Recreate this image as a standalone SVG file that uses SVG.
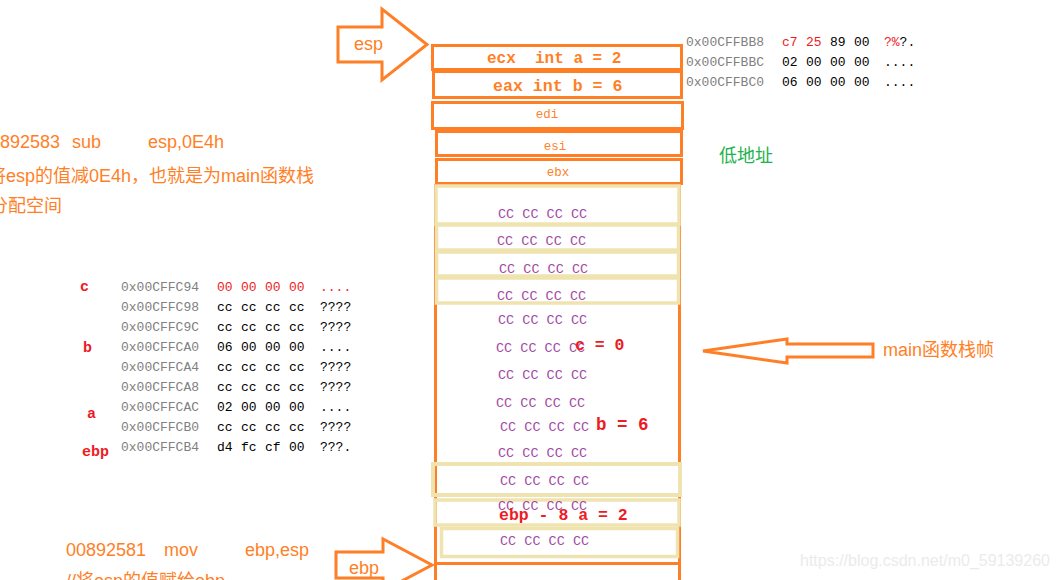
<svg xmlns="http://www.w3.org/2000/svg" width="1057" height="580" viewBox="0 0 1057 580">
<style>
.ob{fill:none;stroke:#FF7F27;stroke-width:3}
.bb{fill:none;stroke:#EFE4B0;stroke-width:3.5}
.arr{fill:none;stroke:#FF7F27;stroke-width:3;stroke-linejoin:miter}
.mono{font-family:"Liberation Mono","DejaVu Sans Mono",monospace}
.hb{font-family:"Liberation Mono",monospace;font-weight:bold;font-size:16px;fill:#FF7F27}
.reg{font-family:"Liberation Mono",monospace;font-size:12.5px;fill:#FF7F27;text-anchor:middle}
.cc{font-family:"Liberation Mono",monospace;font-size:13.5px;fill:#A349A4}
.rl{font-family:"Liberation Mono",monospace;font-weight:bold;font-size:16.5px;fill:#ED1C24}
.sans{font-family:"Liberation Sans","Noto Sans CJK SC",sans-serif;font-size:18px;fill:#FF7F27}
.addr{font-family:"Liberation Mono",monospace;font-size:13px;fill:#808080}
.byte{font-family:"Liberation Mono",monospace;font-size:13px;fill:#000}
.red{fill:#ED1C24}
.lbl{font-family:"Liberation Mono",monospace;font-weight:bold;font-size:15px;fill:#ED1C24}
</style>

<g id="stack-frame">
  <line x1="435.5" y1="184" x2="435.5" y2="580" stroke="#FF7F27" stroke-width="3"/>
  <line x1="679.5" y1="184" x2="679.5" y2="580" stroke="#FF7F27" stroke-width="3"/>
  <line x1="436" y1="563.5" x2="680" y2="563.5" stroke="#FF7F27" stroke-width="3"/>
</g>

<g id="slot-ecx"><rect class="ob" x="432.5" y="45.5" width="249" height="24"/><text class="hb" x="487" y="63" xml:space="preserve">ecx  int a = 2</text></g>
<g id="slot-eax"><rect class="ob" x="433.5" y="71.5" width="248" height="26"/><text class="hb" x="493" y="91" style="font-size:16.6px">eax int b = 6</text></g>
<g id="slot-edi"><rect class="ob" x="432.5" y="102.5" width="250" height="26"/><text class="reg" x="547" y="118">edi</text></g>
<g id="slot-esi"><rect class="ob" x="436.5" y="131.5" width="245" height="24"/><text class="reg" x="555" y="150">esi</text></g>
<g id="slot-ebx"><rect class="ob" x="436.5" y="159.5" width="245" height="24"/><text class="reg" x="558" y="176">ebx</text></g>

<g id="cc-slots">
  <rect class="bb" x="436" y="186" width="243" height="38"/>
  <rect class="bb" x="436.5" y="225" width="242" height="25"/>
  <rect class="bb" x="436.5" y="252" width="242" height="24"/>
  <rect class="bb" x="436.5" y="278" width="242" height="25"/>
  <rect class="bb" x="433" y="464" width="247" height="31" style="stroke-width:4"/>
  <rect class="bb" x="435" y="500" width="244" height="25"/>
  <rect class="bb" x="441.5" y="528.5" width="236" height="28"/>
  <text class="cc" x="498" y="218">CC CC CC CC</text>
  <text class="cc" x="497" y="245">CC CC CC CC</text>
  <text class="cc" x="499" y="273">CC CC CC CC</text>
  <text class="cc" x="497" y="300">CC CC CC CC</text>
  <text class="cc" x="498" y="324">CC CC CC CC</text>
  <text class="cc" x="496" y="352">CC CC CC CC</text>
  <text class="cc" x="498" y="379">CC CC CC CC</text>
  <text class="cc" x="496" y="407">CC CC CC CC</text>
  <text class="cc" x="500" y="431">CC CC CC CC</text>
  <text class="cc" x="498" y="457">CC CC CC CC</text>
  <text class="cc" x="500" y="485">CC CC CC CC</text>
  <text class="cc" x="498" y="510">CC CC CC CC</text>
  <text class="cc" x="500" y="545">CC CC CC CC</text>
  <text class="rl" x="575" y="350">c = 0</text>
  <text class="rl" x="596" y="430" style="font-size:17.5px">b = 6</text>
  <text class="rl" x="499" y="520">ebp - 8 a = 2</text>
</g>

<g id="esp-arrow">
  <polygon class="arr" points="338,27 382,27 382,9 427,44.5 382,80 382,62 338,62"/>
  <text class="sans" x="354" y="50">esp</text>
</g>
<g id="ebp-arrow">
  <polygon class="arr" points="336,552 383,552 383,539 432,565 383,591 383,578 336,578"/>
  <text class="sans" x="349" y="574">ebp</text>
</g>
<g id="main-arrow">
  <polygon class="arr" points="703,351 787,339 787,344 873,344 873,357 787,357 787,363"/>
  <text class="sans" x="883" y="356">main函数栈帧</text>
</g>

<g id="low-addr"><text class="sans" x="719" y="162" style="fill:#22B14C">低地址</text></g>

<g id="top-note">
  <text class="sans" x="60" y="148" text-anchor="end">00892583</text>
  <text class="sans" x="72" y="148">sub</text>
  <text class="sans" x="148" y="148">esp,0E4h</text>
  <text class="sans" x="-12" y="182">将esp的值减0E4h，也就是为main函数栈</text>
  <text class="sans" x="-10" y="212">分配空间</text>
</g>

<g id="bottom-note">
  <text class="sans" x="66" y="556">00892581</text>
  <text class="sans" x="164" y="556">mov</text>
  <text class="sans" x="245" y="556">ebp,esp</text>
  <text class="sans" x="66" y="587">//将esp的值赋给ebp</text>
</g>

<g id="mem-top">
  <text class="addr" x="686" y="46">0x00CFFBB8</text>
  <text class="byte" x="782" y="46"><tspan class="red">c7</tspan> <tspan class="red" x="806">25</tspan><tspan x="830">89</tspan><tspan x="854">00</tspan><tspan x="884" class="red">?%</tspan>?.</text>
  <text class="addr" x="686" y="66">0x00CFFBBC</text>
  <text class="byte" y="66"><tspan x="782">02</tspan><tspan x="806">00</tspan><tspan x="830">00</tspan><tspan x="854">00</tspan><tspan x="884">....</tspan></text>
  <text class="addr" x="686" y="86">0x00CFFBC0</text>
  <text class="byte" y="86"><tspan x="782">06</tspan><tspan x="806">00</tspan><tspan x="830">00</tspan><tspan x="854">00</tspan><tspan x="884">....</tspan></text>
</g>

<g id="mem-left">
  <text class="lbl" x="80" y="291">c</text>
  <text class="lbl" x="83" y="352">b</text>
  <text class="lbl" x="87" y="418">a</text>
  <text class="lbl" x="82" y="456">ebp</text>
  <text class="addr" x="121" y="291">0x00CFFC94</text>
  <text class="byte" y="291" style="fill:#ED1C24"><tspan x="217">00</tspan><tspan x="241">00</tspan><tspan x="265">00</tspan><tspan x="289">00</tspan><tspan x="320">....</tspan></text>
  <text class="addr" x="121" y="311">0x00CFFC98</text>
  <text class="byte" y="311"><tspan x="217">cc</tspan><tspan x="241">cc</tspan><tspan x="265">cc</tspan><tspan x="289">cc</tspan><tspan x="320">????</tspan></text>
  <text class="addr" x="121" y="331">0x00CFFC9C</text>
  <text class="byte" y="331"><tspan x="217">cc</tspan><tspan x="241">cc</tspan><tspan x="265">cc</tspan><tspan x="289">cc</tspan><tspan x="320">????</tspan></text>
  <text class="addr" x="121" y="351">0x00CFFCA0</text>
  <text class="byte" y="351"><tspan x="217">06</tspan><tspan x="241">00</tspan><tspan x="265">00</tspan><tspan x="289">00</tspan><tspan x="320">....</tspan></text>
  <text class="addr" x="121" y="371">0x00CFFCA4</text>
  <text class="byte" y="371"><tspan x="217">cc</tspan><tspan x="241">cc</tspan><tspan x="265">cc</tspan><tspan x="289">cc</tspan><tspan x="320">????</tspan></text>
  <text class="addr" x="121" y="391">0x00CFFCA8</text>
  <text class="byte" y="391"><tspan x="217">cc</tspan><tspan x="241">cc</tspan><tspan x="265">cc</tspan><tspan x="289">cc</tspan><tspan x="320">????</tspan></text>
  <text class="addr" x="121" y="411">0x00CFFCAC</text>
  <text class="byte" y="411"><tspan x="217">02</tspan><tspan x="241">00</tspan><tspan x="265">00</tspan><tspan x="289">00</tspan><tspan x="320">....</tspan></text>
  <text class="addr" x="121" y="431">0x00CFFCB0</text>
  <text class="byte" y="431"><tspan x="217">cc</tspan><tspan x="241">cc</tspan><tspan x="265">cc</tspan><tspan x="289">cc</tspan><tspan x="320">????</tspan></text>
  <text class="addr" x="121" y="451">0x00CFFCB4</text>
  <text class="byte" y="451"><tspan x="217">d4</tspan><tspan x="241">fc</tspan><tspan x="265">cf</tspan><tspan x="289">00</tspan><tspan x="320">???.</tspan></text>
</g>

<g id="watermark"><text x="800" y="566" style="font-family:'Liberation Sans',sans-serif;font-size:16px;fill:#EBEBEB">https://blog.csdn.net/m0_59139260</text></g>
</svg>
